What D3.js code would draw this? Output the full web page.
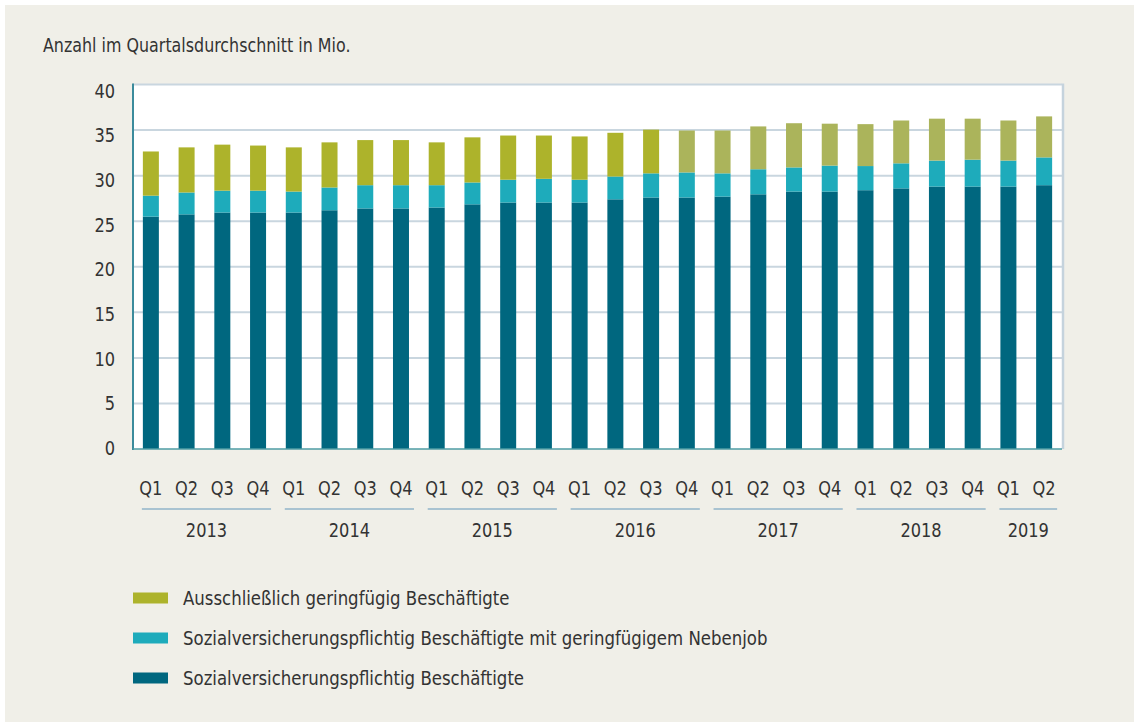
<!DOCTYPE html>
<html>
<head>
<meta charset="utf-8">
<script src="https://cdn.jsdelivr.net/npm/d3@7"></script>
<style>
  body { margin: 0; background: #fff; }
  svg text { font-family: "Liberation Sans Narrow", "DejaVu Sans Condensed", "Roboto", sans-serif; fill: #333; }
</style>
</head>
<body>
<svg id="chart" width="1134" height="722"></svg>
<script>
// data (Mio., Quartalsdurchschnitt)
const years = ["2013", "2014", "2015", "2016", "2017", "2018", "2019"];
const quarters = ["Q1","Q2","Q3","Q4","Q1","Q2","Q3","Q4","Q1","Q2","Q3","Q4","Q1","Q2","Q3","Q4",
                  "Q1","Q2","Q3","Q4","Q1","Q2","Q3","Q4","Q1","Q2"];
const quarterYears = [0,0,0,0,1,1,1,1,2,2,2,2,3,3,3,3,4,4,4,4,5,5,5,5,6,6];
// Sozialversicherungspflichtig Beschäftigte
const svb = [25.5, 25.75, 25.95, 25.95, 25.95, 26.2, 26.4, 26.4, 26.5, 26.85, 27.05, 27.05, 27.05,
             27.4, 27.6, 27.6, 27.7, 27.95, 28.25, 28.25, 28.4, 28.6, 28.8, 28.8, 28.8, 28.95];
// Sozialversicherungspflichtig Beschäftigte mit geringfügigem Nebenjob
const nebenjob = [2.3, 2.4, 2.4, 2.4, 2.3, 2.5, 2.55, 2.55, 2.45, 2.4, 2.5, 2.6, 2.5,
                  2.5, 2.65, 2.75, 2.55, 2.75, 2.65, 2.85, 2.65, 2.75, 2.85, 2.95, 2.85, 3.05];
// Ausschließlich geringfügig Beschäftigte
const minijob = [4.85, 4.95, 5.05, 4.95, 4.85, 4.95, 4.95, 4.95, 4.7, 4.95, 4.85, 4.75, 4.75,
                 4.8, 4.8, 4.6, 4.7, 4.7, 4.85, 4.6, 4.6, 4.7, 4.6, 4.5, 4.4, 4.5];
const paleFrom = 15; // ab 2016 Q4 hellere Farbe
const yTicks = [0, 5, 10, 15, 20, 25, 30, 35, 40];
const legendLabels = ["Ausschließlich geringfügig Beschäftigte",
                      "Sozialversicherungspflichtig Beschäftigte mit geringfügigem Nebenjob",
                      "Sozialversicherungspflichtig Beschäftigte"];

const colDark = "#00677f", colTeal = "#1eabbb", colOlive = "#adb32b", colOlivePale = "#abb45b";

// squeeze text a bit so the fallback font looks closer to the condensed original
function condense(sel, k) {
  sel.each(function () {
    const w = this.getComputedTextLength();
    d3.select(this).attr("textLength", w * k).attr("lengthAdjust", "spacingAndGlyphs");
  });
}

const svg = d3.select("#chart");
svg.append("rect").attr("x", 5).attr("y", 5).attr("width", 1129).attr("height", 717).attr("fill", "#f0efe8");

const plotLeft = 133, plotRight = 1062, plotTop = 84.5, plotBottom = 449;
const x = d3.scaleBand().domain(d3.range(quarters.length)).range([plotLeft, plotRight]);
const y = d3.scaleLinear().domain([0, 40]).range([plotBottom, plotTop]);
const barW = 16;

svg.append("text").attr("x", 43).attr("y", 52).attr("font-size", 19)
  .text("Anzahl im Quartalsdurchschnitt in Mio.")
  .call(condense, 0.93);

// plot background
svg.append("rect").attr("x", plotLeft).attr("y", plotTop).attr("width", plotRight - plotLeft)
  .attr("height", plotBottom - plotTop).attr("fill", "#fff");

// grid
svg.selectAll(".grid").data(yTicks.filter(d => d > 0)).enter().append("line")
  .attr("x1", plotLeft).attr("x2", plotRight)
  .attr("y1", d => y(d)).attr("y2", d => y(d))
  .attr("stroke", "#c9d6df").attr("stroke-width", 2);

// right border
svg.append("line").attr("x1", plotRight + 1).attr("x2", plotRight + 1).attr("y1", plotTop - 1).attr("y2", plotBottom)
  .attr("stroke", "#c5d3dd").attr("stroke-width", 2.5);

// y labels
svg.selectAll(".ylab").data(yTicks).enter().append("text")
  .attr("x", 115).attr("y", d => y(d) - 1 + (d / 40) * 7).attr("dy", "0.35em")
  .attr("text-anchor", "end").attr("font-size", 20)
  .text(d => d)
  .call(condense, 0.9);

// bars
const idx = d3.range(quarters.length);
const cx = i => x(i) + x.bandwidth() / 2;
const g = svg.append("g");
g.selectAll(".b1").data(idx).enter().append("rect")
  .attr("x", i => cx(i) - barW / 2).attr("width", barW)
  .attr("y", i => y(svb[i])).attr("height", i => y(0) - y(svb[i]))
  .attr("fill", colDark);
g.selectAll(".b2").data(idx).enter().append("rect")
  .attr("x", i => cx(i) - barW / 2).attr("width", barW)
  .attr("y", i => y(svb[i] + nebenjob[i])).attr("height", i => y(svb[i]) - y(svb[i] + nebenjob[i]))
  .attr("fill", colTeal);
g.selectAll(".b3").data(idx).enter().append("rect")
  .attr("x", i => cx(i) - barW / 2).attr("width", barW)
  .attr("y", i => y(svb[i] + nebenjob[i] + minijob[i]))
  .attr("height", i => y(svb[i] + nebenjob[i]) - y(svb[i] + nebenjob[i] + minijob[i]))
  .attr("fill", i => i >= paleFrom ? colOlivePale : colOlive);

// axes lines
svg.append("line").attr("x1", plotLeft).attr("x2", plotLeft).attr("y1", plotTop - 1).attr("y2", plotBottom + 1)
  .attr("stroke", "#3b8b9c").attr("stroke-width", 2);
svg.append("line").attr("x1", plotLeft).attr("x2", plotRight).attr("y1", plotBottom).attr("y2", plotBottom)
  .attr("stroke", "#4e9ca4").attr("stroke-width", 1.5);

// quarter labels
svg.selectAll(".qlab").data(idx).enter().append("text")
  .attr("x", i => cx(i)).attr("y", 488).attr("dy", "0.35em")
  .attr("text-anchor", "middle").attr("font-size", 20)
  .text(i => quarters[i])
  .call(condense, 0.9);

// year groups
years.forEach((yr, k) => {
  const members = idx.filter(i => quarterYears[i] === k);
  const x0 = cx(members[0]) - 9, x1 = cx(members[members.length - 1]) + 13;
  svg.append("line").attr("x1", x0).attr("x2", x1).attr("y1", 509).attr("y2", 509)
    .attr("stroke", "#a9c3d1").attr("stroke-width", 2);
  svg.append("text").attr("x", (x0 + x1) / 2).attr("y", 530).attr("dy", "0.35em")
    .attr("text-anchor", "middle").attr("font-size", 20).text(yr)
    .call(condense, 0.9);
});

// legend
const legendColors = [colOlive, colTeal, colDark];
legendLabels.forEach((t, k) => {
  const ly = 598 + k * 40;
  svg.append("rect").attr("x", 133).attr("y", ly - 5.5).attr("width", 35).attr("height", 11).attr("fill", legendColors[k]);
  svg.append("text").attr("x", 183).attr("y", ly).attr("dy", "0.35em").attr("font-size", 20).text(t)
    .call(condense, 0.92);
});
</script>
</body>
</html>
